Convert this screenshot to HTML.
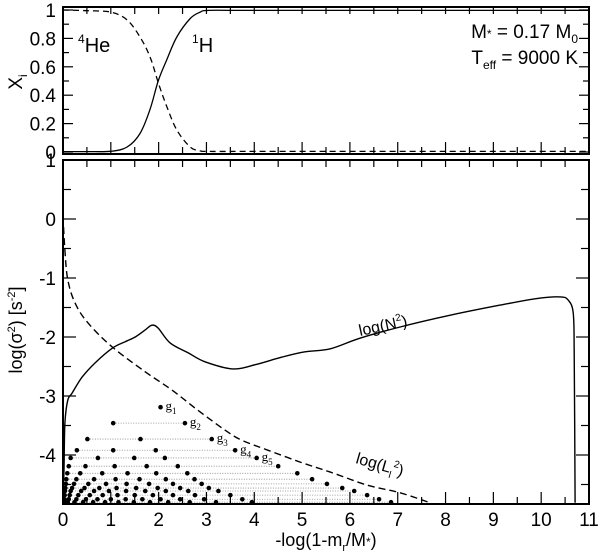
<!DOCTYPE html>
<html><head><meta charset="utf-8"><style>
body{margin:0;background:#fff}
svg{display:block;font-family:"Liberation Sans",sans-serif}
</style></head><body>
<svg id="chart" width="600" height="555" viewBox="0 0 600 555" xmlns="http://www.w3.org/2000/svg">
<g id="topPanel"></g>
<g id="botPanel"></g>
<text transform="translate(22,82) rotate(-90)" text-anchor="middle" font-size="19">X<tspan font-size="12" dy="5">i</tspan></text>
<text transform="translate(22,330) rotate(-90)" text-anchor="middle" font-size="18">log(σ<tspan font-size="11" dy="-7">2</tspan><tspan dy="7">) [s</tspan><tspan font-size="11" dy="-7">-2</tspan><tspan dy="7">]</tspan></text>
<text x="326" y="546" text-anchor="middle" font-size="18">-log(1-m<tspan font-size="11" dy="5">r</tspan><tspan dy="-5">/M</tspan><tspan font-size="12">*</tspan>)</text>
<text x="78" y="52" font-size="20"><tspan font-size="12" dy="-9">4</tspan><tspan dy="9">He</tspan></text>
<text x="192" y="52" font-size="20"><tspan font-size="12" dy="-9">1</tspan><tspan dy="9">H</tspan></text>
<text x="578" y="38" text-anchor="end" font-size="19">M<tspan font-size="12">*</tspan> = 0.17 M<tspan font-size="12" dy="5">0</tspan></text>
<text x="578" y="64" text-anchor="end" font-size="19">T<tspan font-size="12" dy="5">eff</tspan><tspan dy="-5"> = 9000 K</tspan></text>
<text transform="translate(360,336) rotate(-12)" font-size="16">log(N<tspan font-size="10" dy="-7">2</tspan><tspan dy="7">)</tspan></text>
<text transform="translate(355,463) rotate(16)" font-size="16">log(L<tspan font-size="10" dy="5">l</tspan><tspan font-size="10" dy="-12">2</tspan><tspan dy="7">)</tspan></text>
</svg>
<script>
const topX = [0, 0.5, 1.0, 1.34, 1.61, 1.82, 1.99, 2.17, 2.38, 2.66, 2.87, 3.05, 4, 11];
const heY = [1, 0.995, 0.985, 0.93, 0.81, 0.67, 0.49, 0.32, 0.155, 0.035, 0.008, 0.004, 0.004, 0.004];
const hY = [0.003, 0.003, 0.005, 0.035, 0.13, 0.3, 0.5, 0.65, 0.81, 0.94, 0.985, 0.997, 0.997, 0.997];
const n2X = [0, 0.02, 0.04, 0.1, 0.19, 0.4, 0.67, 1.03, 1.3, 1.51, 1.72, 1.86, 1.99, 2.24, 2.62, 2.97, 3.54, 4.02, 4.58, 5.06, 5.59, 6.21, 7.05, 8.1, 9.14, 9.98, 10.4, 10.56, 10.67, 10.69, 10.71];
const n2Y = [-4.83, -4.25, -3.46, -3.07, -2.95, -2.68, -2.44, -2.19, -2.08, -2.0, -1.88, -1.8, -1.85, -2.1, -2.27, -2.42, -2.54, -2.47, -2.34, -2.25, -2.2, -2.02, -1.83, -1.63, -1.46, -1.34, -1.32, -1.37, -1.59, -2.27, -4.81];
const l2X = [0, 0.04, 0.1, 0.25, 0.52, 1.03, 1.72, 2.28, 2.82, 3.39, 3.74, 4.29, 4.96, 5.59, 6.36, 7.05, 7.68];
const l2Y = [0.05, -0.53, -1.03, -1.42, -1.76, -2.17, -2.59, -2.9, -3.24, -3.58, -3.75, -3.92, -4.12, -4.29, -4.51, -4.64, -4.81];
const modeY = [-3.19, -3.46, -3.73, -3.92, -4.05, -4.19, -4.31, -4.41, -4.49, -4.56, -4.61, -4.68, -4.75, -4.80];
const modeX = [
 [2.04],
 [1.05, 2.55],
 [0.51, 1.62, 3.11],
 [0.29, 1.05, 1.94, 3.6],
 [0.16, 0.73, 1.49, 2.13, 4.05],
 [0.12, 0.47, 1.08, 1.75, 2.4, 4.5],
 [0.09, 0.36, 0.82, 1.35, 1.95, 2.6, 4.9],
 [0.07, 0.28, 0.65, 1.1, 1.6, 2.15, 2.75, 5.21],
 [0.06, 0.23, 0.53, 0.9, 1.33, 1.8, 2.3, 2.9, 5.52],
 [0.05, 0.19, 0.45, 0.76, 1.12, 1.53, 1.98, 2.45, 3.05, 5.84],
 [0.04, 0.16, 0.38, 0.65, 0.96, 1.32, 1.72, 2.15, 2.62, 3.25, 6.09],
 [0.035, 0.14, 0.32, 0.56, 0.83, 1.14, 1.5, 1.88, 2.3, 2.76, 3.5, 6.36],
 [0.03, 0.12, 0.28, 0.48, 0.72, 1.0, 1.31, 1.66, 2.04, 2.45, 2.95, 3.75, 6.61],
 [0.025, 0.1, 0.24, 0.42, 0.63, 0.88, 1.16, 1.48, 1.82, 2.2, 2.65, 3.2, 3.95, 6.86]
];
const modeLabels = ["1", "2", "3", "4", "5"];
const xTicks = [0,1,2,3,4,5,6,7,8,9,10,11];
const topYTicks = ["0","0.2","0.4","0.6","0.8","1"];
const botYTicks = [1,0,-1,-2,-3,-4];

const NS = "http://www.w3.org/2000/svg";
const L = 63, R = 589;
const sx = v => L + v * (R - L) / 11;
const tyT = v => 152 - 142 * v;
const tyB = v => 219 - 59 * v;
function mk(parent, tag, attrs) {
  const e = document.createElementNS(NS, tag);
  for (const k in attrs) e.setAttribute(k, attrs[k]);
  parent.appendChild(e);
  return e;
}
const topG = document.getElementById('topPanel');
const botG = document.getElementById('botPanel');
const svgEl = document.getElementById('chart');

const defs = mk(svgEl, 'defs', {});
const cp = mk(defs, 'clipPath', {id: 'bc'});
mk(cp, 'rect', {x: L, y: 160, width: R - L, height: 344});
const cpt = mk(defs, 'clipPath', {id: 'tc'});
mk(cpt, 'rect', {x: L, y: 7, width: R - L, height: 147});

function ticksX(g, y0, y1) {
  for (let i = 0; i <= 22; i++) {
    const v = i / 2, x = sx(v), len = i % 2 ? 7 : 12;
    const t1 = mk(g, 'line', {x1: x, x2: x, y1: y0, y2: y0 + 7, stroke: '#000', 'stroke-width': 1.2});
    
    
    const t2 = mk(g, 'line', {x1: x, x2: x, y1: y1, y2: y1 - len, stroke: '#000', 'stroke-width': 1.2});
    
    
  }
}
// smooth monotone-ish Catmull-Rom path through data points
function path(xs, ys, f) {
  const p = xs.map((x, i) => [sx(x), f(ys[i])]);
  let d = 'M' + p[0][0].toFixed(1) + ',' + p[0][1].toFixed(1);
  for (let i = 0; i < p.length - 1; i++) {
    const p0 = p[Math.max(0, i - 1)], p1 = p[i], p2 = p[i + 1], p3 = p[Math.min(p.length - 1, i + 2)];
    const dx = p2[0] - p1[0];
    let c1x = p1[0] + (p2[0] - p0[0]) / 6, c1y = p1[1] + (p2[1] - p0[1]) / 6;
    let c2x = p2[0] - (p3[0] - p1[0]) / 6, c2y = p2[1] - (p3[1] - p1[1]) / 6;
    c1x = Math.min(Math.max(c1x, p1[0]), p2[0]);
    c2x = Math.min(Math.max(c2x, p1[0]), p2[0]);
    const lo = Math.min(p1[1], p2[1]) - 4, hi = Math.max(p1[1], p2[1]) + 4;
    c1y = Math.min(Math.max(c1y, lo), hi);
    c2y = Math.min(Math.max(c2y, lo), hi);
    d += 'C' + c1x.toFixed(1) + ',' + c1y.toFixed(1) + ' ' + c2x.toFixed(1) + ',' + c2y.toFixed(1) + ' ' + p2[0].toFixed(1) + ',' + p2[1].toFixed(1);
  }
  return d;
}
ticksX(topG, 7, 154);
for (let i = 0; i <= 10; i++) {
  const y = tyT(i / 10), len = i % 2 ? 6 : 10;
  const a = mk(topG, 'line', {x1: L, x2: L + len, y1: y, y2: y, stroke: '#000', 'stroke-width': 1.2});
  
  
  const b = mk(topG, 'line', {x1: R, x2: R - len, y1: y, y2: y, stroke: '#000', 'stroke-width': 1.2});
  
  
}
topYTicks.forEach((s, i) => {
  const t = mk(topG, 'text', {x: 56, y: tyT(i * 0.2) + 7, 'text-anchor': 'end', 'font-size': 19});
  t.textContent = s;
  
  
});
const he = mk(topG, 'path', {d: path(topX, heY, tyT), fill: 'none', stroke: '#000', 'stroke-width': 1.3, 'stroke-dasharray': '6,4', 'clip-path': 'url(#tc)'});


const hh = mk(topG, 'path', {d: path(topX, hY, tyT), fill: 'none', stroke: '#000', 'stroke-width': 1.3, 'clip-path': 'url(#tc)'});


const tf = mk(topG, 'rect', {x: L, y: 7, width: R - L, height: 147, fill: 'none', stroke: '#000', 'stroke-width': 2});



modeX.forEach((row, r) => {
  const y = tyB(modeY[r]);
  if (row.length > 1) {
    const ln = mk(botG, 'line', {x1: sx(row[0]), x2: sx(row[row.length - 1]), y1: y, y2: y, stroke: '#888', 'stroke-width': 0.8, 'stroke-dasharray': '1,1.5', 'clip-path': 'url(#bc)'});
    
    
  }
  row.forEach(v => {
    const c = mk(botG, 'circle', {cx: sx(v), cy: y, r: 2.3, fill: '#000', 'clip-path': 'url(#bc)'});
    
    
  });
});
modeLabels.forEach((s, i) => {
  const row = modeX[i], y = tyB(modeY[i]);
  const t = mk(botG, 'text', {x: sx(row[row.length - 1]) + 5, y: y + 3, 'font-size': 13, 'font-family': '"Liberation Serif",serif'});
  
  
  t.textContent = 'g';
  const sub = mk(t, 'tspan', {'font-size': 9, dy: 4});
  sub.textContent = s;
});
const n2 = mk(botG, 'path', {d: path(n2X, n2Y, tyB), fill: 'none', stroke: '#000', 'stroke-width': 1.4, 'stroke-linejoin': 'round', 'clip-path': 'url(#bc)'});


const l2 = mk(botG, 'path', {d: path(l2X, l2Y, tyB), fill: 'none', stroke: '#000', 'stroke-width': 1.4, 'stroke-dasharray': '7,4', 'clip-path': 'url(#bc)'});


ticksX(botG, 160, 504);
for (let i = -9; i <= 2; i++) {
  const y = tyB(i / 2);
  if (y < 160 || y > 504) continue;
  const len = i % 2 ? 8 : 13;
  const a = mk(botG, 'line', {x1: L, x2: L + len, y1: y, y2: y, stroke: '#000', 'stroke-width': 1.2});
  
  
  const b = mk(botG, 'line', {x1: R, x2: R - len, y1: y, y2: y, stroke: '#000', 'stroke-width': 1.2});
  
  
}
botYTicks.forEach(v => {
  const t = mk(botG, 'text', {x: 56, y: tyB(v) + 7, 'text-anchor': 'end', 'font-size': 19});
  t.textContent = v < 0 ? '-' + (-v) : String(v);
  
  
});
xTicks.forEach(v => {
  const t = mk(botG, 'text', {x: sx(v), y: 526, 'text-anchor': 'middle', 'font-size': 19});
  t.textContent = String(v);
  
  
});
const bf = mk(botG, 'rect', {x: L, y: 160, width: R - L, height: 344, fill: 'none', stroke: '#000', 'stroke-width': 2});


</script>
</body></html>
